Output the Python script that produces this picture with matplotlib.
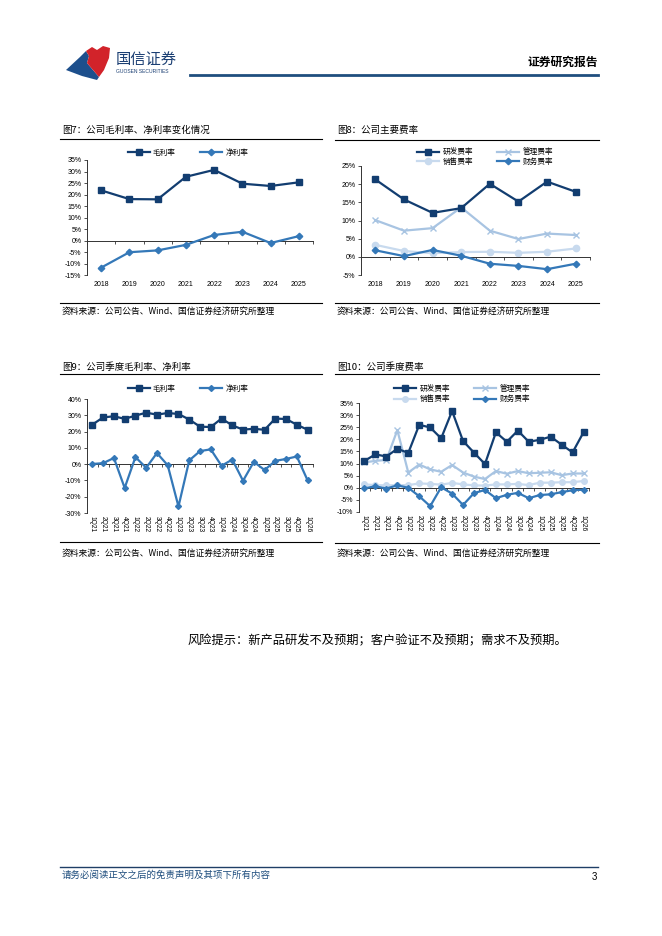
import numpy as np
import matplotlib
matplotlib.use("Agg")
import matplotlib.pyplot as plt
from matplotlib.patches import Polygon

W, H = 662, 936
plt.rcParams['font.family'] = ['Liberation Sans', 'Noto Sans CJK SC']
plt.rcParams['axes.unicode_minus'] = False
CJK = ['Noto Sans CJK SC', 'DejaVu Sans']

NAVY = '#123d70'
MID = '#3478b8'
LIGHT = '#a8c4e2'
PALE = '#c8daee'

# ---- data ----
years = ['2018', '2019', '2020', '2021', '2022', '2023', '2024', '2025']
gross_y = [21.8, 18.0, 17.9, 27.7, 30.7, 24.7, 23.7, 25.3]
net_y = [-11.8, -5.1, -4.3, -1.9, 2.4, 3.8, -1.1, 1.9]

rd_y = [21.3, 15.8, 12.1, 13.4, 20.1, 15.2, 20.7, 17.9]
mgmt_y = [10.1, 7.2, 7.9, 13.6, 7.2, 4.9, 6.4, 6.0]
sales_y = [3.3, 1.6, 1.0, 1.3, 1.4, 1.1, 1.4, 2.3]
fin_y = [1.8, 0.2, 1.9, 0.3, -1.9, -2.5, -3.4, -1.9]

quarters = ['1Q21', '2Q21', '3Q21', '4Q21', '1Q22', '2Q22', '3Q22', '4Q22',
            '1Q23', '2Q23', '3Q23', '4Q23', '1Q24', '2Q24', '3Q24', '4Q24',
            '1Q25', '2Q25', '3Q25', '4Q25', '1Q26']
gross_q = [24.3, 28.7, 29.4, 27.8, 29.8, 31.6, 30.4, 31.4, 30.8, 27.4, 23.0,
           22.8, 28.0, 23.8, 21.2, 21.7, 21.1, 28.0, 27.7, 24.2, 21.1]
net_q = [0.1, 0.6, 3.8, -14.6, 4.3, -2.2, 6.8, -0.7, -26.0, 2.3, 8.0,
         9.1, -1.0, 2.8, -10.2, 1.4, -3.6, 2.0, 3.2, 4.7, -10.0]

rd_q = [11.1, 13.8, 12.9, 16.1, 14.4, 26.0, 24.9, 20.4, 31.7, 19.3, 14.5,
        9.8, 22.9, 19.0, 23.6, 19.0, 19.8, 21.1, 17.8, 14.6, 22.9]
mgmt_q = [10.5, 11.1, 11.5, 23.8, 6.3, 9.6, 7.6, 6.6, 9.4, 6.3, 4.6,
          3.6, 6.9, 5.8, 6.9, 6.0, 6.2, 6.4, 5.2, 5.9, 5.9]
sales_q = [1.4, 1.1, 1.0, 1.1, 1.1, 1.8, 1.6, 1.3, 2.0, 1.4, 1.0,
           0.9, 1.4, 1.4, 1.6, 1.1, 2.1, 2.1, 2.3, 2.3, 2.8]
fin_q = [-0.2, 0.6, -0.3, 1.0, 0.0, -3.5, -7.6, 0.2, -2.4, -7.1, -2.2,
         -0.9, -4.3, -2.9, -2.1, -4.3, -3.0, -2.7, -1.8, -1.0, -0.8]

SOURCE = '资料来源：公司公告、Wind、国信证券经济研究所整理'

fig = plt.figure(figsize=(6.62, 9.36), dpi=100)
page = fig.add_axes([0, 0, 1, 1], zorder=0)
page.set_xlim(0, W)
page.set_ylim(H, 0)
page.axis('off')


def panel(x0, y0, x1, y1):
    return fig.add_axes([x0 / W, 1 - y1 / H, (x1 - x0) / W, (y1 - y0) / H], zorder=2)


def style(ax, labels, lo, hi, step, rotate=False):
    n = len(labels)
    ax.set_xlim(-0.5, n - 0.5)
    ax.set_ylim(lo, hi)
    ax.set_yticks(np.arange(lo, hi + 0.1, step))
    ax.yaxis.set_major_formatter(lambda v, p: f'{v:.0f}%')
    for s in ['top', 'right']:
        ax.spines[s].set_visible(False)
    for s in ['left', 'bottom']:
        ax.spines[s].set_linewidth(0.7)
        ax.spines[s].set_color('#333333')
    ax.spines['bottom'].set_position(('data', 0))
    ax.set_xticks(np.arange(n + 1) - 0.5)
    ax.set_xticklabels([])
    ax.tick_params(axis='x', length=2.5, width=0.6, color='#333333')
    ax.tick_params(axis='y', length=2.5, width=0.6, color='#333333',
                   labelsize=5, pad=1.5)
    ax.patch.set_alpha(0)
    for i, lab in enumerate(labels):
        if rotate:
            ax.annotate(lab, xy=(i, 0), xycoords=ax.get_xaxis_transform(),
                        xytext=(0, -2.5), textcoords='offset points',
                        rotation=-90, ha='center', va='top', fontsize=4.8)
        else:
            ax.annotate(lab, xy=(i, 0), xycoords=ax.get_xaxis_transform(),
                        xytext=(0, -4.5), textcoords='offset points',
                        ha='center', va='top', fontsize=5)


def frame(x0, x1, title, ytitle, yline, ysrc_line, ysrc):
    page.text(x0 + 2, ytitle, title, fontsize=6.8, va='center', family=CJK)
    page.plot([x0, x1], [yline, yline], color='black', lw=0.8)
    page.plot([x0, x1], [ysrc_line, ysrc_line], color='black', lw=0.8)
    page.text(x0 + 2, ysrc, SOURCE, fontsize=6.3, va='center', family=CJK)


def legend(ax, handles, labels, cx, cy, spacing=0.1):
    ax.legend(handles, labels, loc='center', bbox_to_anchor=(cx / W, 1 - cy / H),
              bbox_transform=fig.transFigure, ncol=2, frameon=False,
              prop={'family': CJK, 'size': 5.5}, handlelength=2.9,
              columnspacing=3.2, labelspacing=spacing, handletextpad=0.4,
              borderpad=0)


# ---- header ----
page.add_patch(Polygon([(66, 70), (80, 57), (86, 51), (89, 56), (87, 63), (93, 70),
                        (99, 77), (97, 80), (82, 76)],
                       closed=True, color='#1d4f8c', lw=0))
page.add_patch(Polygon([(86, 51), (92, 47), (97, 50), (103, 46), (110, 48), (109, 58),
                        (104, 70), (99, 77), (93, 70), (87, 63), (89, 56)],
                       closed=True, color='#d2232a', lw=0))
page.text(116, 59, '国信证券', fontsize=11, va='center', family=CJK, color='#1b3f73')
page.text(116, 71.5, 'GUOSEN SECURITIES', fontsize=3.6, va='center', color='#1b3f73')
page.text(598, 62, '证券研究报告', fontsize=8.5, va='center', ha='right',
          family=CJK, weight='bold')
page.plot([190, 598], [75, 75], color='#1f4e7e', lw=2)

# ---- figure 7 ----
frame(60, 322, '图7：公司毛利率、净利率变化情况', 130, 139, 303, 311)
ax = panel(87, 160, 313, 275)
style(ax, years, -15, 35, 5)
x = np.arange(len(years))
h1, = ax.plot(x, gross_y, color=NAVY, lw=1.6, marker='s', ms=4.5, zorder=3)
h2, = ax.plot(x, net_y, color=MID, lw=1.6, marker='D', ms=3.3, zorder=3)
legend(ax, [h1, h2], ['毛利率', '净利率'], 188, 153)

# ---- figure 8 ----
frame(335, 599, '图8：公司主要费率', 130, 140, 303, 311)
ax = panel(361, 166, 590, 275)
style(ax, years, -5, 25, 5)
a, = ax.plot(x, rd_y, color=NAVY, lw=1.6, marker='s', ms=4.5, zorder=4)
b, = ax.plot(x, mgmt_y, color=LIGHT, lw=1.6, marker='x', ms=4.5, mew=1, zorder=3)
c, = ax.plot(x, sales_y, color=PALE, lw=1.6, marker='o', ms=4.5, zorder=2)
d, = ax.plot(x, fin_y, color=MID, lw=1.6, marker='D', ms=3.3, zorder=3)
legend(ax, [a, c, b, d], ['研发费率', '销售费率', '管理费率', '财务费率'], 485, 157, 0.2)

# ---- figure 9 ----
frame(60, 322, '图9：公司季度毛利率、净利率', 367, 374, 542, 553)
ax = panel(87, 399, 313, 513)
style(ax, quarters, -30, 40, 10, rotate=True)
xq = np.arange(len(quarters))
h1, = ax.plot(xq, gross_q, color=NAVY, lw=1.6, marker='s', ms=4.2, zorder=3)
h2, = ax.plot(xq, net_q, color=MID, lw=1.6, marker='D', ms=3.0, zorder=3)
legend(ax, [h1, h2], ['毛利率', '净利率'], 188, 389)

# ---- figure 10 ----
frame(335, 599, '图10：公司季度费率', 367, 374, 543, 553)
ax = panel(359, 403, 589, 512)
style(ax, quarters, -10, 35, 5, rotate=True)
a, = ax.plot(xq, rd_q, color=NAVY, lw=1.6, marker='s', ms=4.2, zorder=4)
b, = ax.plot(xq, mgmt_q, color=LIGHT, lw=1.6, marker='x', ms=4.2, mew=1, zorder=3)
c, = ax.plot(xq, sales_q, color=PALE, lw=1.6, marker='o', ms=4.0, zorder=2)
d, = ax.plot(xq, fin_q, color=MID, lw=1.6, marker='D', ms=3.0, zorder=3)
legend(ax, [a, c, b, d], ['研发费率', '销售费率', '管理费率', '财务费率'], 462, 394, 0.35)

# ---- risk note and footer ----
page.text(188, 641, '风险提示：新产品研发不及预期；客户验证不及预期；需求不及预期。',
          fontsize=8.8, va='center', family=CJK)
page.plot([60, 598], [867, 867], color='#1f3f66', lw=1)
page.text(62, 875, '请务必阅读正文之后的免责声明及其项下所有内容', fontsize=6.8,
          va='center', family=CJK, style='italic', color='#1f4e7e')
page.text(597, 877, '3', fontsize=7, va='center', ha='right')

fig.savefig('out.png', dpi=100)
